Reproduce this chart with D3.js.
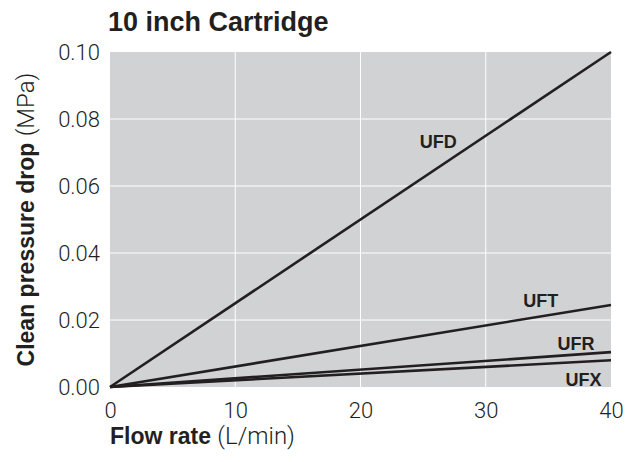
<!DOCTYPE html>
<html>
<head>
<meta charset="utf-8">
<script src="https://cdn.jsdelivr.net/npm/d3@7"></script>
<style>
  body { margin: 0; background: #fff; }
  text { font-family: "Liberation Sans", Arial, sans-serif; fill: #231f20; }
  .light { font-family: Roboto, "Liberation Sans", sans-serif; font-weight: 300; }
</style>
</head>
<body>
<svg id="chart" width="628" height="462"></svg>
<script>
// flow rate range (L/min) and pressure range (MPa)
const xTicks = [0, 10, 20, 30, 40];
const yTicks = [0, 0.02, 0.04, 0.06, 0.08, 0.10];

const seriesNames = ['UFD', 'UFT', 'UFR', 'UFX'];
const flowPoints = [0, 40];
const ufdValues = [0, 0.100];
const uftValues = [0, 0.0245];
const ufrValues = [0, 0.0104];
const ufxValues = [0, 0.0080];

// label anchor points (baseline), in data units
const labelFlow = [26.2, 34.4, 37.2, 37.8];
const labelDrop = [0.0713, 0.0239, 0.0110, 0.0003];

const svg = d3.select('#chart');
const margin = { left: 110, right: 17, top: 52, bottom: 75 };
const W = 628, H = 462;

const x = d3.scaleLinear().domain([0, 40]).range([margin.left, W - margin.right]);
const y = d3.scaleLinear().domain([0, 0.10]).range([H - margin.bottom, margin.top]);

// plot background
svg.append('rect')
    .attr('x', x(0)).attr('y', y(0.10))
    .attr('width', x(40) - x(0)).attr('height', y(0) - y(0.10))
    .attr('fill', '#d1d2d4');

// grid lines
svg.append('g').selectAll('line')
    .data(xTicks.slice(1, -1))
    .join('line')
    .attr('x1', d => x(d)).attr('x2', d => x(d))
    .attr('y1', y(0)).attr('y2', y(0.10))
    .attr('stroke', '#fff').attr('stroke-width', 1);

svg.append('g').selectAll('line')
    .data(yTicks.slice(1, -1))
    .join('line')
    .attr('x1', x(0)).attr('x2', x(40))
    .attr('y1', d => y(d)).attr('y2', d => y(d))
    .attr('stroke', '#fff').attr('stroke-width', 1);

// axes (labels only, no domain or tick marks)
const xAxis = svg.append('g')
    .attr('transform', `translate(0,${y(0)})`)
    .call(d3.axisBottom(x).tickValues(xTicks).tickSize(0).tickPadding(15).tickFormat(d3.format('d')));
const yAxis = svg.append('g')
    .attr('transform', `translate(${x(0) - 2},0)`)
    .call(d3.axisLeft(y).tickValues(yTicks).tickSize(0).tickPadding(8).tickFormat(d3.format('.2f')));
[xAxis, yAxis].forEach(a => {
    a.select('.domain').remove();
    a.selectAll('text')
        .attr('class', 'light')
        .style('font-size', '22px')
        .attr('fill', '#231f20');
});

// series lines
const series = [ufdValues, uftValues, ufrValues, ufxValues];
const line = d3.line().x((d, i) => x(flowPoints[i])).y(d => y(d));
svg.append('g').selectAll('path')
    .data(series)
    .join('path')
    .attr('d', d => line(d))
    .attr('fill', 'none')
    .attr('stroke', '#231f20')
    .attr('stroke-width', 2.6);

// series labels
svg.append('g').selectAll('text')
    .data(seriesNames)
    .join('text')
    .attr('x', (d, i) => x(labelFlow[i]))
    .attr('y', (d, i) => y(labelDrop[i]))
    .attr('text-anchor', 'middle')
    .style('font-size', '18px')
    .style('font-weight', 'bold')
    .text(d => d);

// title
svg.append('text')
    .attr('x', x(0) - 2).attr('y', 31)
    .style('font-size', '27px')
    .style('font-weight', 'bold')
    .text('10 inch Cartridge');

// x axis title
const xt = svg.append('text')
    .attr('x', x(0)).attr('y', 444)
    .style('font-size', '23px');
xt.append('tspan').style('font-weight', 'bold').text('Flow rate ');
xt.append('tspan').attr('class', 'light').style('font-size', '24px').text('(L/min)');

// y axis title
const yt = svg.append('text')
    .attr('transform', `translate(34,${(y(0) + y(0.10)) / 2}) rotate(-90)`)
    .attr('text-anchor', 'middle')
    .style('font-size', '23px');
yt.append('tspan').style('font-weight', 'bold').text('Clean pressure drop ');
yt.append('tspan').attr('class', 'light').style('font-size', '24px').text('(MPa)');
</script>
</body>
</html>
